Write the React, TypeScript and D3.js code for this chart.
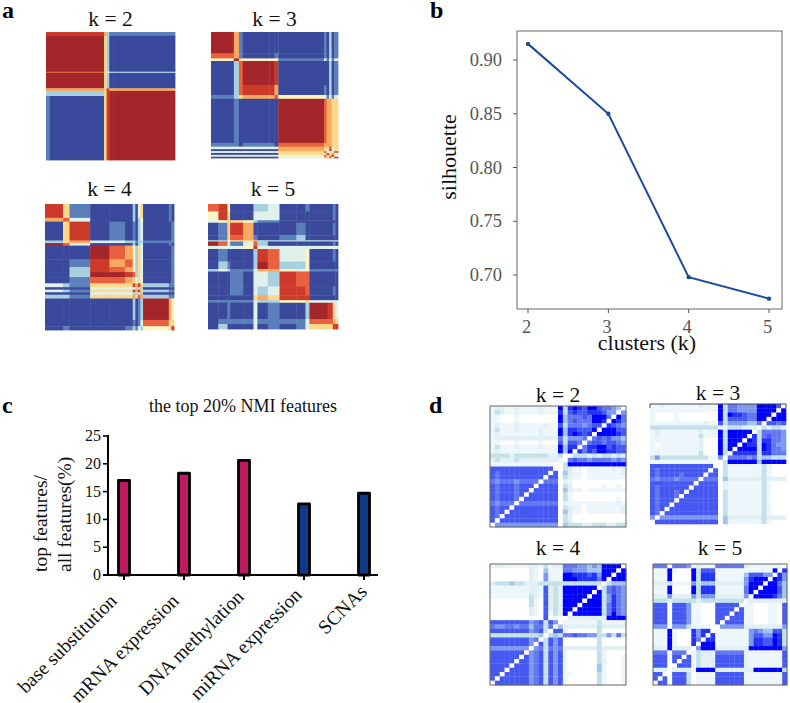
import * as d3 from "d3";

const FONT = "'Liberation Serif', 'Times New Roman', serif";

// panel b
const clusterK = [2, 3, 4, 5];
const silhouette = [0.915, 0.85, 0.698, 0.678];
const silhouetteTicks = [0.7, 0.75, 0.8, 0.85, 0.9];

// panel c
const featureNames = [
  "base substitution",
  "mRNA expression",
  "DNA methylation",
  "miRNA expression",
  "SCNAs",
];
const featureValues = [17, 18.3, 20.6, 12.8, 14.7];
const featureGroups = ["a", "a", "a", "b", "b"];
const featureTicks = [0, 5, 10, 15, 20, 25];

// panel a: consensus blocks, digit 0 = blue ... 9 = red
const a2X = [0, 3, 45, 47, 49, 52, 100];
const a2Y = [0, 3, 31, 32, 44, 46, 50, 100];
const a2Rows = ["886211", "995200", "775322", "995200", "665866", "225899", "105899"];

const a3X = [0, 18, 22, 25, 46, 50, 53, 89, 91, 93, 95, 97, 100];
const a3Y = [0, 17, 21, 23, 42, 50, 53, 88, 91, 93, 94.5, 96, 97.5, 99, 100];
const a3Rows = [
  "961000010201",
  "761001010201",
  "495444131313",
  "027998000201",
  "027886010201",
  "125667431313",
  "010000976655",
  "110110766655",
  "333333655735",
  "000000653835",
  "333333574357",
  "000000538563",
  "333333475683",
  "000000365738",
];

const a4X = [0, 14, 19, 35, 50, 62, 68, 70, 72, 74, 76, 96, 98, 100];
const a4Y = [0, 11, 14, 29, 31, 33, 44, 50, 54, 58, 63, 66, 68, 70, 72, 75, 92, 97, 100];
const a4Rows = [
  "8510002035010",
  "6730002024010",
  "0580101023001",
  "2563322122111",
  "9730002023010",
  "0009764253001",
  "0018674253001",
  "0028764253001",
  "0029987253001",
  "0017765353001",
  "3215558685211",
  "0003333252000",
  "3215558685211",
  "0003332252000",
  "2215556576211",
  "0000002012964",
  "0000001013755",
  "0100012132458",
];

const a5X = [0, 8, 15, 17, 27, 35, 38, 46, 55, 68, 75, 78, 92, 96, 98, 100];
const a5Y = [0, 6, 13, 15, 25, 29, 30, 33.5, 36, 46, 52, 54, 66, 73, 77, 79, 92, 96, 100];
const a5Rows = [
  "784002230010010",
  "485003330000010",
  "345542110000000",
  "015860000100010",
  "015761001200000",
  "223556222222222",
  "973137200000010",
  "333348333333333",
  "010002873340010",
  "021002972240000",
  "232113664341111",
  "000103328770000",
  "000103238870010",
  "000005658880000",
  "111113224453333",
  "001003010029853",
  "011113111137765",
  "020003010135588",
];

// panel d: 28 x 28 similarity cells, digit 0 = white ... 9 = full blue
const d2Rows = [
  "1221121111211193898799766540",
  "1321121111211183787788875505",
  "1100010000000094666769996096",
  "1100010000000094676669980986",
  "1211121111121173666567708765",
  "1311121111211194887779099977",
  "1211111111211194898780999987",
  "1222222222222263555606767554",
  "1100010000100073776067767765",
  "1311121111211194880688997877",
  "1211111111111194908687998877",
  "3333233333332230033323233232",
  "2322232222222210676656666565",
  "1111111111111003999999999999",
  "7777777777777003211011111212",
  "7677777777770704211011111112",
  "7677777777707703211011111111",
  "6566656666066602100000000000",
  "7677767770777703200000010010",
  "7677767707777704211011111111",
  "7677767077777703100000000000",
  "7677760777777703100000000010",
  "6566606666666602111111111121",
  "7677077777777703211011111112",
  "7670777777777704211011111112",
  "7607777777777703200000000000",
  "7077777777777703200000000000",
  "0555555555555504333223332233",
];

const d3Rows = [
  "1121111111211193665555999970",
  "1111111111111193665555999909",
  "1000010000000093988766999099",
  "1000010000000093777766990999",
  "1111111111121173555544607767",
  "3333333333333321333222032332",
  "1211111111211193999990366665",
  "1211111111311193999908367665",
  "1111111111200093999098388665",
  "1011111111200093990988398655",
  "1111111111200093909999398665",
  "1211111111300093088888388666",
  "3533333333331150666656344333",
  "1111111111111003999999499999",
  "7777777777777003111111131000",
  "7677777777770703111111131000",
  "7677776777707703111111131000",
  "6566656666066604222222232222",
  "7777777770777702111111131000",
  "7677777707777702111111131000",
  "7677767077777703111111131000",
  "7677760777777703111111131000",
  "7677707777777703111111131000",
  "7677077777777703111111131000",
  "7670777777777703111111131000",
  "7607777777777703111111131000",
  "5055555555555504222222232222",
  "0777777777777704111111131000",
];

const d4Rows = [
  "1221111122131226665545499990",
  "0000000021041116655544499909",
  "0000000021051119988878599099",
  "0000000021051119998888690999",
  "2333433222333333333333303444",
  "1111111122172329999999036765",
  "1111111122172329999990936765",
  "1111111132172329999909935865",
  "0000000031072329999099935865",
  "0000000031072329990999936865",
  "0000000021072329909999936865",
  "0000000021071329099999936965",
  "0000000000070100222222229999",
  "7777777756737501111111311111",
  "6556656646636042222222322222",
  "7777777756730771000000300000",
  "3333333333403436676655335363",
  "7777777756037570000000300000",
  "7777777750737570000000300000",
  "5555555505636562222222322222",
  "7777777056737571000000310000",
  "7777770756737571000000310001",
  "7777707756737571000000320001",
  "7777077756737571000000410001",
  "7770777756737571000000410001",
  "7707777756737571100000310001",
  "7077777756737571000000310001",
  "0777777756737571000000310001",
];

const d5Rows = [
  "6660666512111666666211111110",
  "1119100093777111111111111908",
  "1119000093888111111477755085",
  "1119000093888111111589990985",
  "2223111153444222222599909964",
  "1119000093888111111699099974",
  "1119000093888111111690999974",
  "2225222253555222222509999864",
  "3332333332333333333022222222",
  "7770777511000777770110001107",
  "7770777511000777707110001107",
  "7770777511000777077110001107",
  "7770777511000770777110001107",
  "7770777511000707777110001107",
  "5550555311110055555222222225",
  "1119100085880111111156544773",
  "1119100085808111111157755983",
  "1119100086088111111158877983",
  "1119100080999111111158877983",
  "2229222205999222222299999995",
  "6660666013222666666211111117",
  "7770770713222777777211111117",
  "7770707713222777777211111117",
  "7770077713222777777211111117",
  "2220222219999222222229999993",
  "7700777301111777777111111117",
  "7070777301111777777111111117",
  "0770777301111777777111111117",
];

const redBlue = d3
  .scaleLinear<string>()
  .domain(d3.range(10))
  .range(["#3b4a9c", "#5a7fba", "#a8cfe0", "#e0f0ea", "#fbf6c0", "#fdd88a", "#f9a860", "#e8603c", "#cc3a2c", "#a5282a"]);

const whiteBlue = d3
  .scaleLinear<string>()
  .domain(d3.range(10))
  .range(["#ffffff", "#edf6fa", "#e0f0f5", "#c4e1ea", "#a3c4ec", "#7d99ef", "#6377f0", "#4458f2", "#2233f7", "#0404ff"]);

type Box = { x0: number; x1: number; y0: number; y1: number };

function BlockMap({ box, xs, ys, rows, title, titleY }: { box: Box; xs: number[]; ys: number[]; rows: string[]; title: string; titleY: number }) {
  const x = d3.scaleLinear().domain([0, 100]).range([box.x0, box.x1]);
  const y = d3.scaleLinear().domain([0, 100]).range([box.y0, box.y1]);
  return (
    <g>
      <g filter="url(#softA)">
        {rows.map((row, i) =>
          row.split("").map((c, j) => (
            <rect
              key={`${i}-${j}`}
              x={x(xs[j])}
              y={y(ys[i])}
              width={x(xs[j + 1]) - x(xs[j]) + 0.4}
              height={y(ys[i + 1]) - y(ys[i]) + 0.4}
              fill={redBlue(+c)}
            />
          )),
        )}
      </g>
      <text x={(box.x0 + box.x1) / 2} y={titleY} textAnchor="middle" fontSize={21.5} fill="#111">
        {title}
      </text>
    </g>
  );
}

function CellMap({ box, rows, title, titleY, topOnly }: { box: Box; rows: string[]; title: string; titleY: number; topOnly?: boolean }) {
  const x = d3.scaleBand<number>().domain(d3.range(28)).range([box.x0, box.x1]);
  const y = d3.scaleBand<number>().domain(d3.range(28)).range([box.y0, box.y1]);
  return (
    <g>
      <g filter="url(#softD)">
        {rows.map((row, i) =>
          row.split("").map((c, j) => (
            <rect
              key={`${i}-${j}`}
              x={x(j)}
              y={y(i)}
              width={x.bandwidth() + 0.3}
              height={y.bandwidth() + 0.3}
              fill={whiteBlue(+c)}
            />
          )),
        )}
      </g>
      {topOnly ? (
        <path d={`M${box.x0},${box.y0 + 4}V${box.y0}H${box.x1}V${box.y0 + 4}`} fill="none" stroke="#444" strokeWidth={1} />
      ) : (
        <rect x={box.x0} y={box.y0} width={box.x1 - box.x0} height={box.y1 - box.y0} fill="none" stroke="#666" strokeWidth={1} />
      )}
      <text x={(box.x0 + box.x1) / 2} y={titleY} textAnchor="middle" fontSize={21.5} fill="#111">
        {title}
      </text>
    </g>
  );
}

function LinePanel() {
  const x = d3.scaleLinear().domain([2, 5]).range([528, 769]);
  const y = d3.scaleLinear().domain([0.7, 0.9]).range([275, 60]);
  const line = d3
    .line<number>()
    .x((_, i) => x(clusterK[i]))
    .y((d) => y(d));
  return (
    <g>
      <rect x={517} y={31} width={265} height={278} fill="none" stroke="#666" strokeWidth={1} />
      {silhouetteTicks.map((t) => (
        <g key={t}>
          <line x1={513} x2={517} y1={y(t)} y2={y(t)} stroke="#555" />
          <text x={502} y={y(t) + 6} textAnchor="end" fontSize={18.5} fill="#555">
            {t.toFixed(2)}
          </text>
        </g>
      ))}
      {clusterK.map((k) => (
        <g key={k}>
          <line x1={x(k)} x2={x(k)} y1={309} y2={313} stroke="#555" />
          <text x={x(k) - 1.5} y={333} textAnchor="middle" fontSize={18.5} fill="#555">
            {k}
          </text>
        </g>
      ))}
      <path d={line(silhouette) ?? ""} fill="none" stroke="#1c4a9c" strokeWidth={2} />
      {silhouette.map((v, i) => (
        <circle key={i} cx={x(clusterK[i])} cy={y(v)} r={2.2} fill="#1c4a9c" />
      ))}
      <text x={647} y={350} textAnchor="middle" fontSize={22} fill="#111">
        clusters (k)
      </text>
      <text transform="translate(456,157) rotate(-90)" textAnchor="middle" fontSize={22} fill="#111">
        silhouette
      </text>
    </g>
  );
}

function BarPanel() {
  const x = d3.scaleBand<string>().domain(featureNames).range([94, 394]);
  const y = d3.scaleLinear().domain([0, 25]).range([575, 436]);
  const fill = d3.scaleOrdinal<string>().domain(["a", "b"]).range(["#c01a60", "#0f3a85"]);
  const barW = 11;
  // hand placed label ends, the labels are not evenly spaced in the figure
  const labelDx = [-5, -3, 2, 0, 5];
  const labelDy = [602, 602, 598, 596, 593];
  return (
    <g>
      {featureNames.map((name, i) => {
        const cx = (x(name) ?? 0) + x.bandwidth() / 2;
        return (
          <g key={name}>
            <rect
              x={cx - barW / 2}
              y={y(featureValues[i])}
              width={barW}
              height={y(0) - y(featureValues[i])}
              fill={fill(featureGroups[i])}
              stroke="#000"
              strokeWidth={2.8}
              strokeLinejoin="round"
            />
            <line x1={cx} x2={cx} y1={575} y2={580} stroke="#000" strokeWidth={2} />
            <text
              transform={`translate(${cx - 1 + labelDx[i]},${labelDy[i]}) rotate(-45)`}
              textAnchor="end"
              fontSize={19.5}
              fill="#111"
            >
              {name}
            </text>
          </g>
        );
      })}
      <line x1={103} x2={378} y1={575} y2={575} stroke="#000" strokeWidth={2} />
      <line x1={108} x2={108} y1={435} y2={576} stroke="#000" strokeWidth={2} />
      {featureTicks.map((t) => (
        <g key={t}>
          <line x1={103} x2={108} y1={y(t)} y2={y(t)} stroke="#000" strokeWidth={1.6} />
          <text x={101} y={y(t) + 5} textAnchor="end" fontSize={16} fill="#111">
            {t}
          </text>
        </g>
      ))}
      <text x={149} y={412} fontSize={18} fill="#111">
        the top 20% NMI features
      </text>
      <text transform="translate(47,572) rotate(-90)" fontSize={19.5} fill="#111">
        top features/
      </text>
      <text transform="translate(71,572) rotate(-90)" fontSize={19.5} fill="#111">
        all features(%)
      </text>
    </g>
  );
}

export default function App() {
  return (
    <svg
      width={790}
      height={703}
      viewBox="0 0 790 703"
      fontFamily={FONT}
      style={{ position: "absolute", left: 0, top: 0, background: "#fff" }}
    >
      <defs>
        <filter id="softA" x="-2%" y="-2%" width="104%" height="104%">
          <feGaussianBlur stdDeviation={0.7} />
        </filter>
        <filter id="softD" x="-2%" y="-2%" width="104%" height="104%">
          <feGaussianBlur stdDeviation={0.55} />
        </filter>
      </defs>

      <text x={2} y={18} fontSize={24} fontWeight="bold">a</text>
      <text x={430} y={18} fontSize={24} fontWeight="bold">b</text>
      <text x={2} y={413} fontSize={24} fontWeight="bold">c</text>
      <text x={429} y={413} fontSize={24} fontWeight="bold">d</text>

      <BlockMap box={{ x0: 46, x1: 175, y0: 32, y1: 160 }} xs={a2X} ys={a2Y} rows={a2Rows} title="k = 2" titleY={26} />
      <BlockMap box={{ x0: 211, x1: 338, y0: 32, y1: 158 }} xs={a3X} ys={a3Y} rows={a3Rows} title="k = 3" titleY={26} />
      <BlockMap box={{ x0: 45, x1: 174, y0: 204, y1: 330 }} xs={a4X} ys={a4Y} rows={a4Rows} title="k = 4" titleY={196} />
      <BlockMap box={{ x0: 208, x1: 338, y0: 204, y1: 329 }} xs={a5X} ys={a5Y} rows={a5Rows} title="k = 5" titleY={196} />

      <LinePanel />
      <BarPanel />

      <CellMap box={{ x0: 490, x1: 626, y0: 406, y1: 527 }} rows={d2Rows} title="k = 2" titleY={402} />
      <CellMap box={{ x0: 650, x1: 786, y0: 404, y1: 524 }} rows={d3Rows} title="k = 3" titleY={400} topOnly />
      <CellMap box={{ x0: 490, x1: 626, y0: 564, y1: 685 }} rows={d4Rows} title="k = 4" titleY={555} />
      <CellMap box={{ x0: 653, x1: 787, y0: 564, y1: 685 }} rows={d5Rows} title="k = 5" titleY={555} />
    </svg>
  );
}
